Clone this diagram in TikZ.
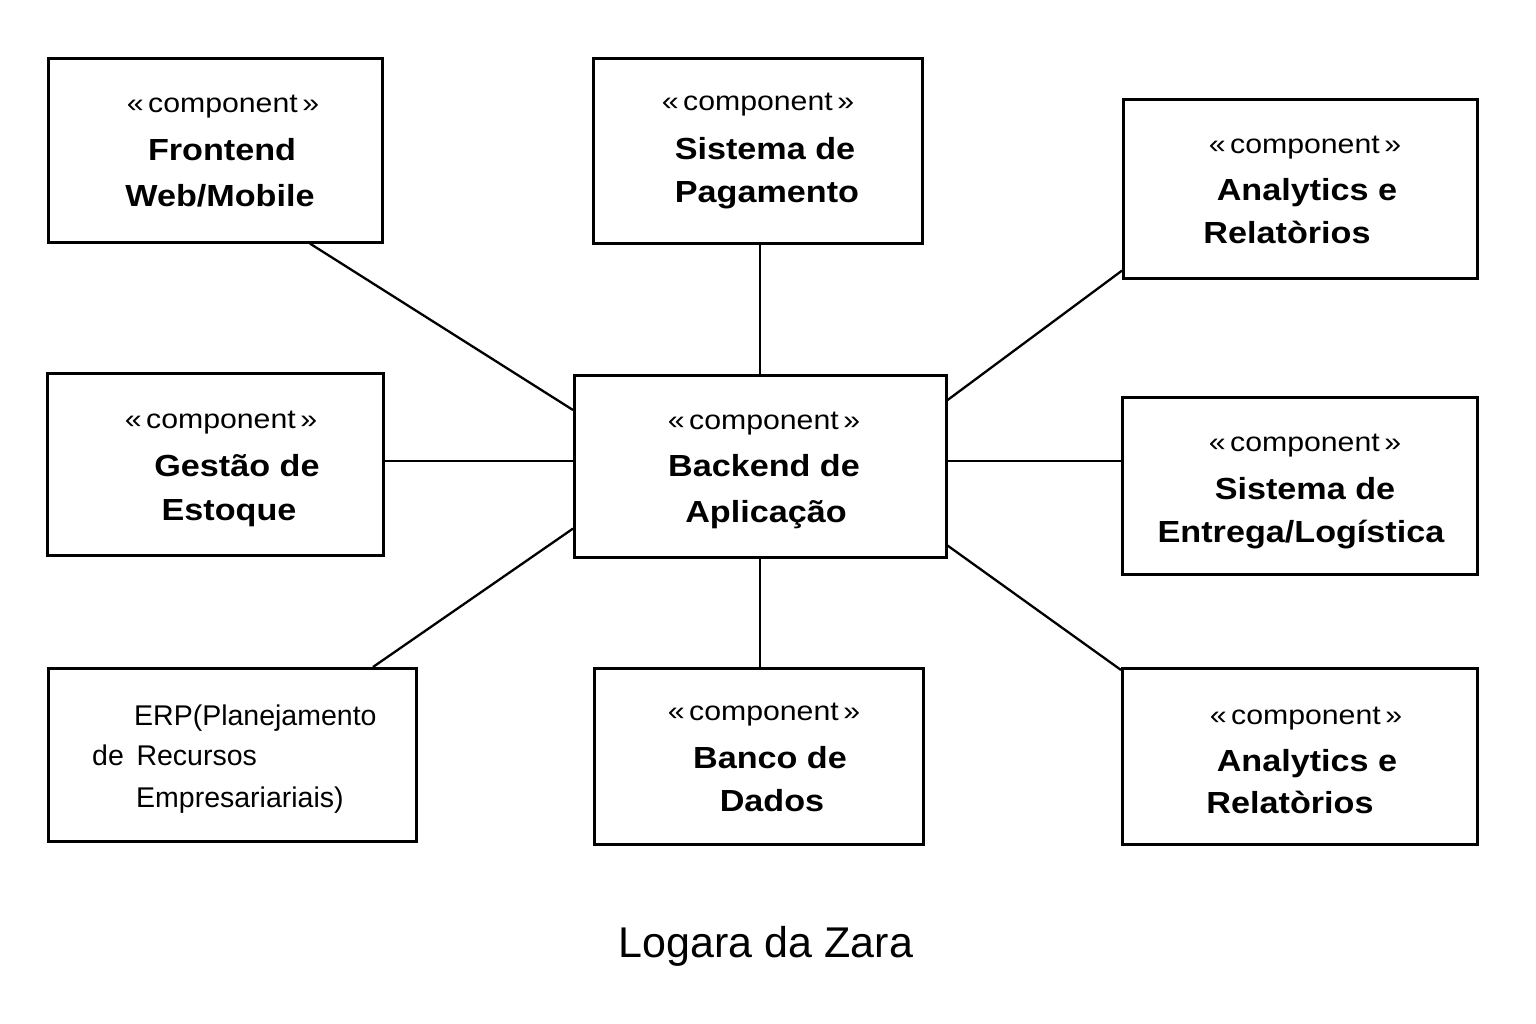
\documentclass[tikz,border=0pt]{standalone}
\usepackage{fontspec}
\setmainfont{Liberation Sans}
\newfontfamily\widefont[FakeStretch=1.12]{Liberation Sans}
\usetikzlibrary{calc}
\begin{document}
\begin{tikzpicture}[x=1pt,y=-1pt,
  box/.style={draw, line width=2.6pt, inner sep=0pt, anchor=north west},
  link/.style={line width=2.3pt},
  comp/.style={anchor=base, inner sep=0pt, font=\widefont\fontsize{27}{30}\selectfont},
  bname/.style={anchor=base, inner sep=0pt, font=\widefont\bfseries\fontsize{30.5}{34}\selectfont},
  erptext/.style={anchor=base west, inner sep=0pt, font=\fontsize{28.5}{32}\selectfont},
  titletext/.style={anchor=base, inner sep=0pt, font=\fontsize{43}{48}\selectfont}]
\useasboundingbox[fill=white] (0,0) rectangle (1536,1024);

% boxes
\node[box, minimum width=334, minimum height=184] (fe) at (47,57) {};
\node[box, minimum width=329, minimum height=185] (pg) at (592,57) {};
\node[box, minimum width=354, minimum height=179] (an1) at (1122,98) {};
\node[box, minimum width=336, minimum height=182] (gs) at (46,372) {};
\node[box, minimum width=372, minimum height=182] (be) at (573,374) {};
\node[box, minimum width=355, minimum height=177] (en) at (1121,396) {};
\node[box, minimum width=368, minimum height=173] (erp) at (47,667) {};
\node[box, minimum width=329, minimum height=176] (bd) at (593,667) {};
\node[box, minimum width=355, minimum height=176] (an2) at (1121,667) {};

% texts
\node[comp] (fe1) at (223,113) {«\,component\,»};
\node[bname] (fe2) at (222,161) {Frontend};
\node[bname] (fe3) at (220,207) {Web/Mobile};

\node[comp] (pg1) at (758,111) {«\,component\,»};
\node[bname] (pg2) at (765,160) {Sistema de};
\node[bname] (pg3) at (767,203) {Pagamento};

\node[comp] (an11) at (1305,154) {«\,component\,»};
\node[bname] (an12) at (1307,201) {Analytics e};
\node[bname] (an13) at (1287,244) {Relatòrios};

\node[comp] (gs1) at (221,428) {«\,component\,»};
\node[bname] (gs2) at (237,476) {Gestão de};
\node[bname] (gs3) at (229,520) {Estoque};

\node[comp] (be1) at (764,429) {«\,component\,»};
\node[bname] (be2) at (764,476) {Backend de};
\node[bname] (be3) at (766,522) {Aplicação};

\node[comp] (en1) at (1305,451) {«\,component\,»};
\node[bname] (en2) at (1305,499) {Sistema de};
\node[bname] (en3) at (1301,542) {Entrega/Logística};

\node[erptext] (erp1) at (134,725) {ERP(Planejamento};
\node[erptext] (erp2) at (92,765) {de\, Recursos};
\node[erptext] (erp3) at (136,807) {Empresariariais)};

\node[comp] (bd1) at (764,720) {«\,component\,»};
\node[bname] (bd2) at (770,768) {Banco de};
\node[bname] (bd3) at (772,811) {Dados};

\node[comp] (an21) at (1306,724) {«\,component\,»};
\node[bname] (an22) at (1307,771) {Analytics e};
\node[bname] (an23) at (1290,813) {Relatòrios};

\node[titletext] (title) at (766,957) {Logara da Zara};

% connectors
\coordinate (gsy) at ([yshift=5pt]be.west);
\draw[link] ([xshift=263pt]fe.south west) -- ([yshift=-36pt]be.north west);
\draw[link] (be.north) -- (be.north |- pg.south);
\draw[link] ([yshift=9pt]an1.south west) -- ([yshift=-26pt]be.north east);
\draw[link] (gsy) -- (gsy -| gs.east);
\draw[link] ([yshift=5pt]be.east) -- ([yshift=5pt]be.east -| en.west);
\draw[link] ([xshift=326pt]erp.north west) -- ([yshift=30pt]be.south west);
\draw[link] (be.south) -- (be.south |- bd.north);
\draw[link] ([yshift=-3pt]an2.north west) -- ([yshift=13pt]be.south east);
\end{tikzpicture}
\end{document}
